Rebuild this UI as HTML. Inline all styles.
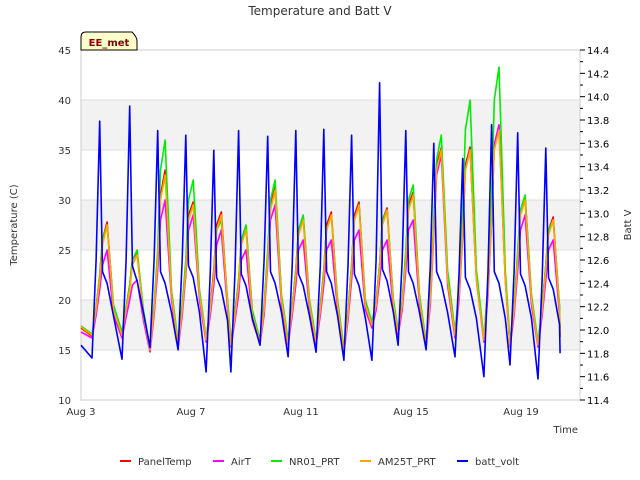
<!DOCTYPE html>
<html><head><meta charset="utf-8"><style>
body{margin:0;background:#fff;}
svg{display:block;font-family:"DejaVu Sans","Liberation Sans",sans-serif;}
</style></head><body>
<svg id="chart" width="640" height="480">
<text x="320" y="15" text-anchor="middle" font-size="12" fill="#333">Temperature and Batt V</text>
<g id="bands"></g>
<g id="grid"></g>
<rect x="81" y="50" width="499" height="350" fill="none" stroke="#ccc"/>
<g id="series"></g>
<g id="axes"></g>
<text transform="translate(17,225) rotate(-90)" text-anchor="middle" font-size="10" fill="#333">Temperature (C)</text>
<text transform="translate(631,225) rotate(-90)" text-anchor="middle" font-size="10" fill="#333">Batt V</text>
<text x="578" y="433" text-anchor="end" font-size="10" fill="#333">Time</text>
<g>
<path d="M81,50 L81,37 Q81,32 86,32 L132,32 Q137,37 137,41 L137,50 Z" fill="#ffffcc" stroke="#000"/>
<text x="109" y="46" text-anchor="middle" font-size="10" font-weight="bold" fill="#8b0000">EE_met</text>
</g>
<g id="legend"></g>
</svg>
<script>
const cycleStarts=[0.40,1.49,2.51,3.53,4.55,5.45,6.51,7.53,8.55,9.56,10.58,11.53,12.55,13.60,14.65,15.60,16.62];
const cycleOffsets=[0,0.15,0.28,0.38,0.55,0.78];
const startDay=0, endDay=17.42;
const am25t=[17.3,
16.5,19,22,25.5,27.5,19, 16.5,19,21,23.5,24.5,18.5, 15,19,24,30,32.5,20.5, 15.5,19,23,28,29.5,20.5,
16,19,22.5,27,28.5,19.5, 15.5,18.5,21.5,25.5,27,18.5, 15.8,19,24,29,31,20, 15.7,19,22.5,26.5,28,19.5,
15.8,19,22.5,27,28.5,19.5, 15,18.5,23,28,29.5,19.5, 17.5,19.5,23,27.5,29,19.5, 16.8,19.5,24,29,30.5,20,
15.5,20,27,33,35,22, 16.5,20.5,27,33,35,22, 16,21,28,35,37,22, 15.5,19,24,28.5,30,20, 15.5,19,23,26.5,28,19,
16.5];
const panelTemp=[17.2,
16.4,19.2,22.5,26,27.8,19.2, 16.4,19.2,21.5,24,24.8,18.7, 15,19.3,24.5,30.5,33,20.8, 15.5,19.3,23.5,28.5,29.8,20.7,
16,19.3,23,27.5,28.8,19.7, 15.5,18.8,22,26,27.4,18.7, 15.8,19.3,24.5,29.5,31.3,20.2, 15.7,19.3,23,27,28.4,19.7,
15.8,19.3,23,27.5,28.8,19.7, 15,18.8,23.5,28.5,29.8,19.7, 17.5,19.8,23.5,28,29.2,19.7, 16.8,19.8,24.5,29.5,30.8,20.2,
15.5,20.3,27.5,33.5,35.2,22.2, 16.5,20.8,27.5,33.5,35.3,22.3, 16,21.3,28.5,35.5,37.5,22.3, 15.5,19.3,24.5,29,30.3,20.2, 15.5,19.3,23.5,27,28.3,19.2,
16.5];
const airT=[16.8,
16.2,18.5,21,23.5,25,18.5, 16.2,18.3,20,21.5,22,18, 14.8,18.5,23,28,30,20, 15.2,18.5,22.5,27,28.5,20,
15.8,18.5,21.5,25.5,27,19, 15.3,18,20.5,24,25,18, 15.6,18.5,23.5,28,29.5,19.5, 15.5,18.5,21.5,25,26,19,
15.5,18.5,21.5,25,26,19, 14.8,18,22,26,27,19, 17.2,19,22,25,26,19, 16.5,19,23,27,28,19.5,
15.3,19.5,26.5,32.5,34.5,21.5, 16.2,20,26.5,33,35,22, 15.8,20.5,28,35.5,37.5,22, 15.3,18.5,23,27,28.5,19.5, 15.3,18.5,22,25,26,18.5,
16.3];
const nr01=[17.4,
16.6,19.2,22.5,26,27.5,19.5, 16.8,19.3,21.5,24,25,19, 15.2,19.5,25,33,36,21, 15.8,19.5,24,30,32,21,
16.2,19.2,22.5,27,28,20, 15.8,18.8,22,26,27.5,19, 16,19.5,25,30,32,20.5, 16,19.3,23,27,28.5,20,
16,19.3,23,27,28.5,20, 15.2,18.8,23.5,28,29.5,20, 17.8,19.8,23.5,28,29,20, 17,19.8,25,30,31.5,20.5,
15.8,20.5,28,34,36.5,23, 16.8,21,29,37,40,23, 16.2,21.5,30,40,43.3,23, 15.8,19.3,25,29,30.5,20.5, 15.8,19.3,23.5,27,28,19.5,
16.6];
const battVolt=[11.87,
11.76,12.6,13.79,12.5,12.4,12.12, 11.75,12.6,13.92,12.55,12.42,12.15, 11.85,12.6,13.71,12.5,12.4,12.15, 11.83,12.6,13.67,12.55,12.45,12.15,
11.64,12.5,13.54,12.45,12.35,12.08, 11.64,12.5,13.71,12.48,12.38,12.1, 11.87,12.6,13.66,12.5,12.4,12.15, 11.77,12.55,13.71,12.48,12.38,12.12,
11.81,12.55,13.72,12.5,12.4,12.12, 11.74,12.55,13.67,12.48,12.38,12.1, 11.74,12.6,14.12,12.52,12.42,12.15, 11.87,12.6,13.71,12.5,12.4,12.15,
11.83,12.55,13.60,12.5,12.4,12.15, 11.77,12.5,13.47,12.45,12.35,12.1, 11.60,12.5,13.76,12.5,12.4,12.1, 11.70,12.5,13.69,12.48,12.38,12.1, 11.58,12.45,13.56,12.45,12.35,12.05,
11.80];
const leftTicks=[10,15,20,25,30,35,40,45];
const rightTicks=[11.4,11.6,11.8,12.0,12.2,12.4,12.6,12.8,13.0,13.2,13.4,13.6,13.8,14.0,14.2,14.4];
const xTickDays=[0,4,8,12,16];
const xTickLabels=["Aug 3","Aug 7","Aug 11","Aug 15","Aug 19"];
const legendNames=["PanelTemp","AirT","NR01_PRT","AM25T_PRT","batt_volt"];
const legendColors=["#ff0000","#ff00ff","#00ee00","#ffa500","#0000ff"];

const times=[startDay];
cycleStarts.forEach(m=>cycleOffsets.forEach(o=>times.push(m+o)));
times.push(endDay);

const NS="http://www.w3.org/2000/svg";
const X0=81,X1=580,Y0=400,Y1=50;
const xs=d=>X0+d*27.5;
const yL=v=>Y0-(v-10)/35*(Y0-Y1);
const yR=v=>Y0-(v-11.4)/3*(Y0-Y1);
function mk(tag,attrs,parent){const e=document.createElementNS(NS,tag);for(const k in attrs)e.setAttribute(k,attrs[k]);parent.appendChild(e);return e;}
const bands=document.getElementById('bands'),grid=document.getElementById('grid'),axes=document.getElementById('axes'),series=document.getElementById('series'),legend=document.getElementById('legend');
[[15,20],[25,30],[35,40]].forEach(b=>{const r=mk('rect',{x:X0,y:yL(b[1]),width:X1-X0,height:yL(b[0])-yL(b[1]),fill:'#f2f2f2'},bands);

});
leftTicks.forEach(v=>{const l=mk('line',{x1:X0,x2:X1,y1:yL(v),y2:yL(v),stroke:'#ddd'},grid);


const t=mk('text',{x:71,y:yL(v)+4,'text-anchor':'end','font-size':10,fill:'#333'},axes);t.textContent=v;

});
for(let i=0;i<=30;i++){const v=11.4+i*0.1;const major=i%2===0;
const l=mk('line',{x1:X1,x2:X1+(major?5:3),y1:yR(v),y2:yR(v),stroke:'#000'},axes);

}
rightTicks.forEach(v=>{const t=mk('text',{x:587,y:yR(v)+4,'font-size':10,fill:'#000'},axes);t.textContent=v.toFixed(1);

});
xTickDays.forEach((d,i)=>{const t=mk('text',{x:xs(d),y:415,'text-anchor':'middle','font-size':10,fill:'#333'},axes);t.textContent=xTickLabels[i];

});
function line(vals,yf,color,name){const p=mk('polyline',{points:vals.map((v,i)=>xs(times[i]).toFixed(1)+','+yf(v).toFixed(1)).join(' '),fill:'none',stroke:color,'stroke-width':1.6,'stroke-linejoin':'round'},series);

}
line(panelTemp,yL,'#ff0000','series-paneltemp');
line(airT,yL,'#ff00ff','series-airt');
line(nr01,yL,'#00ee00','series-nr01-prt');
line(am25t,yL,'#ffa500','series-am25t-prt');
line(battVolt,yR,'#0000ff','series-batt-volt');
const lx=[120,213,271,360,457];
legendNames.forEach((n,i)=>{const g=mk('g',{},legend);


mk('line',{x1:lx[i],x2:lx[i]+11,y1:461,y2:461,stroke:legendColors[i],'stroke-width':2},g);
const t=mk('text',{x:lx[i]+18,y:465,'font-size':10,fill:'#333'},g);t.textContent=n;});
</script>
</body></html>
